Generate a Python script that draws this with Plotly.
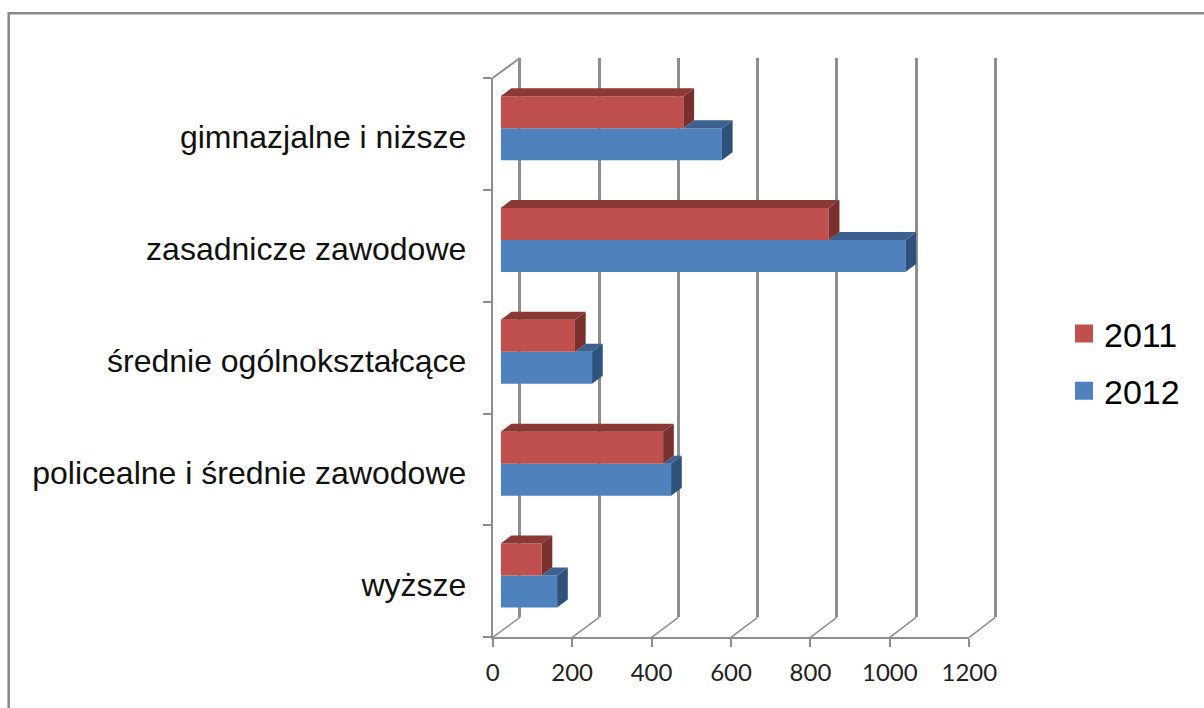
import plotly.graph_objects as go

categories = ["wyższe", "policealne i średnie zawodowe", "średnie ogólnokształcące",
              "zasadnicze zawodowe", "gimnazjalne i niższe"]
values_2011 = [103, 409, 187, 826, 460]
values_2012 = [142, 429, 230, 1019, 557]
x_ticks = [0, 200, 400, 600, 800, 1000, 1200]

W, H = 1204, 708
RED, BLUE = "#C0504D", "#4F81BD"
RED_TOP, RED_SIDE = "#8C3836", "#7A302E"
BLUE_TOP, BLUE_SIDE = "#3C618F", "#2F527D"
GRID = "#8E8E8E"

# pixel boxes of the three planes
FX0, FX1, FY0, FY1 = 492.7, 969.3, 637.3, 78.0   # front (axes)
BACK_DX, BACK_DY = 27.3, 20.0                     # back wall offset
BACK_SHRINK = 1.4                                 # back wall is slightly narrower
BAR_DX, BAR_DY = 8.0, 5.8                         # bar plane offset
DEPTH_X, DEPTH_Y = 10.7, 8.0                      # bar depth
BAR_H = 32.0
SLOT = (FY0 - FY1) / len(categories)
W_FRAC = BAR_H / SLOT
PX_PER_UNIT = (FX1 - FX0) / 1200
GRID_PAD = 6  # data units: keeps the first/last gridline off the axis ends


def dom_x(dx, pad=0.0, shrink=0.0):
    return [(FX0 + dx - pad) / W, (FX1 + dx + pad - shrink) / W]


def dom_y(dy):
    return [1 - (FY0 - dy) / H, 1 - (FY1 - dy) / H]


x_range = [0, 1200]
y_range = [-0.5, len(categories) - 0.5]
hidden = dict(showgrid=False, zeroline=False, showline=False, showticklabels=False, ticks="")

fig = go.Figure()
# empty trace so that the back-wall subplot (and its gridlines) is drawn
fig.add_trace(go.Scatter(x=[None], y=[None], xaxis="x", yaxis="y", showlegend=False, hoverinfo="skip"))
for name, vals, col in (("2012", values_2012, BLUE), ("2011", values_2011, RED)):
    fig.add_trace(go.Bar(y=categories, x=vals, orientation="h", name=name, xaxis="x3", yaxis="y3",
                         marker=dict(color=col, line=dict(width=0)), showlegend=False, hoverinfo="x+y"))
for name, col in (("2011", RED), ("2012", BLUE)):
    fig.add_trace(go.Scatter(x=[None], y=[None], mode="markers", name=name, xaxis="x2", yaxis="y2",
                             legendgroup=name,
                             marker=dict(symbol="square", size=16, color=col, line=dict(color=col, width=2))))


def face(xv, yv, path, color):
    return dict(type="path", xref="x3", yref="y3", xsizemode="pixel", ysizemode="pixel",
                xanchor=xv, yanchor=yv, path=path, fillcolor=color, line=dict(width=0), layer="above")


shapes = []
h = BAR_H
for i, (r, b) in enumerate(zip(values_2011, values_2012)):
    top_r, mid = i + W_FRAC, i
    # blue side + visible part of blue top, starting at the red bar's end
    shapes.append(face(b, mid, f"M0 0 L{DEPTH_X} {DEPTH_Y} L{DEPTH_X} {DEPTH_Y - h} L0 {-h} Z", BLUE_SIDE))
    dx = (b - r) * PX_PER_UNIT
    shapes.append(face(r, mid, f"M0 0 L{DEPTH_X} {DEPTH_Y} L{dx + DEPTH_X} {DEPTH_Y} L{dx} 0 Z", BLUE_TOP))
    # red side and top
    shapes.append(face(r, top_r, f"M0 0 L{DEPTH_X} {DEPTH_Y} L{DEPTH_X} {DEPTH_Y - h} L0 {-h} Z", RED_SIDE))
    rx = r * PX_PER_UNIT
    shapes.append(face(0, top_r, f"M0 0 L{DEPTH_X} {DEPTH_Y} L{rx + DEPTH_X} {DEPTH_Y} L{rx} 0 Z", RED_TOP))


def diagonal(px, py, dx, width):
    # paper-referenced, so the line is not clipped by a subplot
    return dict(type="line", xref="paper", yref="paper", x0=px / W, y0=1 - py / H,
                x1=(px + dx) / W, y1=1 - (py - BACK_DY) / H,
                line=dict(color=GRID, width=width), layer="above")


# floor diagonals and the top-left wall diagonal, joining front axes to the back wall
for t in x_ticks:
    shapes.append(diagonal(FX0 + t * PX_PER_UNIT, FY0, BACK_DX - BACK_SHRINK * t / 1200, 1.5))
shapes.append(diagonal(FX0, FY1, BACK_DX, 2))
# outer picture frame (only top and left edges are in view)
shapes.append(dict(type="path", xref="paper", yref="paper",
                   path=f"M{8.7 / W} 0 L{8.7 / W} {1 - 13.3 / H} L1 {1 - 13.3 / H}",
                   line=dict(color="#8A8A8A", width=2.5), layer="above"))

fig.update_layout(
    width=W, height=H, margin=dict(l=0, r=0, t=0, b=0, autoexpand=False),
    paper_bgcolor="white", plot_bgcolor="rgba(0,0,0,0)",
    barmode="group", bargap=1 - 2 * W_FRAC, bargroupgap=0,
    font=dict(family="Liberation Sans", color="#000000"),
    shapes=shapes,
    xaxis=dict(domain=dom_x(BACK_DX, GRID_PAD * PX_PER_UNIT, BACK_SHRINK), range=[-GRID_PAD, 1200 + GRID_PAD],
               tickvals=x_ticks, showticklabels=False, ticks="",
               showgrid=True, gridcolor=GRID, gridwidth=2.5, zeroline=False, showline=False, anchor="y"),
    yaxis=dict(domain=dom_y(BACK_DY), range=y_range, **hidden, anchor="x"),
    xaxis2=dict(domain=dom_x(0), range=x_range, tickvals=x_ticks, ticks="outside", ticklen=8, tickwidth=2,
                tickcolor=GRID, showline=True, linecolor=GRID, linewidth=2, showgrid=False, zeroline=False,
                tickfont=dict(family="Lato", size=24, color="#222222"), ticklabelstandoff=5, anchor="y2"),
    yaxis2=dict(domain=dom_y(0), type="category", categoryorder="array", categoryarray=categories,
                range=y_range, tickson="boundaries", ticks="outside", ticklen=8, tickwidth=2, tickcolor=GRID,
                showline=True, linecolor=GRID, linewidth=2, showgrid=False, zeroline=False,
                tickfont=dict(family="Liberation Sans", size=32, color="#111111"),
                ticklabelstandoff=18, ticklabelshift=3, anchor="x2"),
    xaxis3=dict(domain=dom_x(BAR_DX), range=x_range, **hidden, anchor="y3"),
    yaxis3=dict(domain=dom_y(BAR_DY), type="category", categoryorder="array", categoryarray=categories,
                range=y_range, **hidden, anchor="x3"),
    legend=dict(x=1064 / W, y=1 - 305 / H, xanchor="left", yanchor="top",
                traceorder="grouped",
                font=dict(family="Liberation Sans", size=34, color="#000000"),
                tracegroupgap=10, itemwidth=30, bgcolor="rgba(0,0,0,0)"),
    showlegend=True,
)

fig.write_html("out.html", config={"displayModeBar": False},
               post_script="document.body.style.margin='0';document.body.style.overflow='hidden';")
